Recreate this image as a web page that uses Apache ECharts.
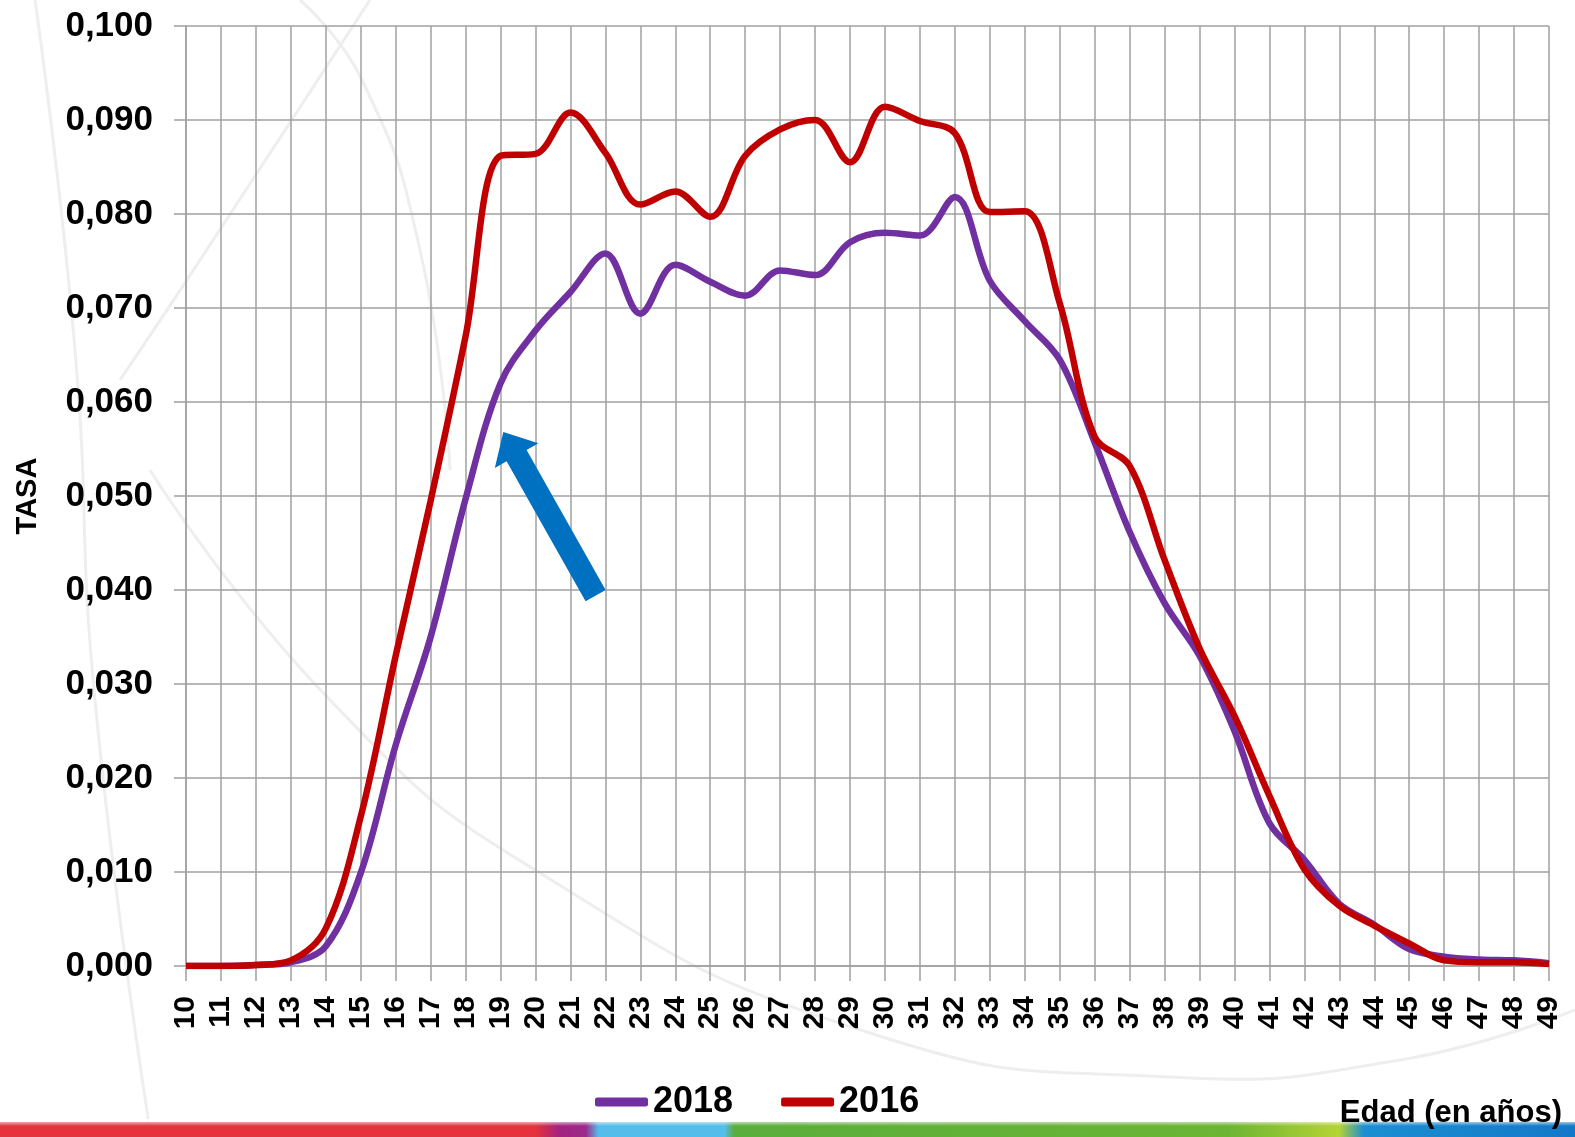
<!DOCTYPE html>
<html><head><meta charset="utf-8">
<script src="https://cdn.jsdelivr.net/npm/echarts@6/dist/echarts.min.js"></script>
<style>html,body{margin:0;padding:0;background:#fff}#c{width:1575px;height:1137px}</style>
</head><body><div id="c"></div>
<script>
// ---- data ----
const ages = ['10','11','12','13','14','15','16','17','18','19','20','21','22','23','24','25','26','27','28','29',
              '30','31','32','33','34','35','36','37','38','39','40','41','42','43','44','45','46','47','48','49'];
const tasa2018 = [0.0000,0.0000,0.0001,0.0004,0.0021,0.0099,0.0235,0.0350,0.0497,0.0620,
                  0.0676,0.0717,0.0758,0.0694,0.0746,0.0728,0.0713,0.0740,0.0735,0.0770,
                  0.0780,0.0777,0.0818,0.0729,0.0686,0.0645,0.0557,0.0462,0.0386,0.0330,
                  0.0250,0.0152,0.0113,0.0066,0.0044,0.0018,0.0010,0.0007,0.0006,0.0003];
const tasa2016 = [0.0000,0.0000,0.0001,0.0006,0.0040,0.0159,0.0330,0.0495,0.0670,0.0862,
                  0.0864,0.0908,0.0865,0.0810,0.0824,0.0797,0.0862,0.0890,0.0900,0.0855,
                  0.0914,0.0899,0.0886,0.0802,0.0803,0.0705,0.0563,0.0532,0.0432,0.0338,
                  0.0266,0.0181,0.0103,0.0064,0.0043,0.0024,0.0006,0.0004,0.0004,0.0002];
const seriesNames = ['2018','2016'];
// annotation arrow (category index, value)
const arrowTip = [9.08, 0.0568];
const arrowTail = [11.72, 0.0394];

// ---- chart ----
const FONT = "'Liberation Sans', Arial, sans-serif";
const GRID = '#a0a0a0';
const chart = echarts.init(document.getElementById('c'), null, {renderer:'canvas'});
const option = {
  backgroundColor: '#ffffff',
  animation: false,
  grid: {left: 186, right: 26, top: 26, bottom: 171, containLabel: false},
  legend: {
    data: seriesNames, left: 590, top: 1079, itemWidth: 53, itemHeight: 9, itemGap: 48,
    icon: 'roundRect',
    textStyle: {fontSize: 36, fontWeight: 'bold', color: '#000', fontFamily: FONT}
  },
  xAxis: {
    type: 'category', data: ages, boundaryGap: false,
    name: 'Edad (en años)', nameLocation: 'end', nameGap: 13,
    nameTextStyle: {align: 'right', verticalAlign: 'top', padding: [132,0,0,0],
                    fontSize: 31, fontWeight: 'bold', color: '#000', fontFamily: FONT},
    axisLine: {lineStyle: {color: GRID, width: 1.5}},
    axisTick: {show: true, interval: 0, length: 15, lineStyle: {color: GRID, width: 1.5}},
    axisLabel: {interval: 0, rotate: 90, margin: 30, fontSize: 30, fontWeight: 'bold',
                color: '#000', fontFamily: FONT},
    splitLine: {show: true, interval: 0, lineStyle: {color: GRID, width: 1.5}}
  },
  yAxis: {
    type: 'value', min: 0, max: 0.1, interval: 0.01,
    name: 'TASA', nameLocation: 'middle', nameGap: 144,
    nameTextStyle: {fontSize: 29, fontWeight: 'bold', color: '#000', fontFamily: FONT},
    axisLine: {show: true, lineStyle: {color: GRID, width: 1.5}},
    axisTick: {show: true, length: 12, lineStyle: {color: GRID, width: 1.5}},
    axisLabel: {margin: 33, fontSize: 35, fontWeight: 'bold', color: '#000', fontFamily: FONT,
                formatter: v => v.toFixed(3).replace('.', ',')},
    splitLine: {show: true, lineStyle: {color: GRID, width: 1.5}}
  },
  series: [
    {name: seriesNames[0], type: 'line', data: tasa2018, smooth: 0.35, symbol: 'none',
     itemStyle: {color: '#7030a0'}, lineStyle: {color: '#7030a0', width: 6.5}, z: 3},
    {name: seriesNames[1], type: 'line', data: tasa2016, smooth: 0.35, symbol: 'none',
     itemStyle: {color: '#c00000'}, lineStyle: {color: '#c00000', width: 6.5}, z: 4}
  ]
};
chart.setOption(option);

// pixel mapping through the chart's own axes
const pA = chart.convertToPixel({gridIndex: 0}, [0, 0]);
const pB = chart.convertToPixel({gridIndex: 0}, [ages.length - 1, 0.1]);
function toPx(idx, v) {
  return [pA[0] + (pB[0] - pA[0]) * idx / (ages.length - 1), pA[1] + (pB[1] - pA[1]) * v / 0.1];
}
const T = toPx(arrowTip[0], arrowTip[1]);
const B = toPx(arrowTail[0], arrowTail[1]);
const dx = T[0] - B[0], dy = T[1] - B[1], L = Math.hypot(dx, dy);
const ux = dx / L, uy = dy / L, nx = -uy, ny = ux;
const sw = 23 / 2, hw = 50 / 2, hl = 27;
const H = [T[0] - ux * hl, T[1] - uy * hl];
const arrowPts = [
  [B[0] + nx * sw, B[1] + ny * sw], [H[0] + nx * sw, H[1] + ny * sw], [H[0] + nx * hw, H[1] + ny * hw],
  T, [H[0] - nx * hw, H[1] - ny * hw], [H[0] - nx * sw, H[1] - ny * sw], [B[0] - nx * sw, B[1] - ny * sw]
];

const deco = {stroke: '#eeeeee', lineWidth: 3, fill: null};
chart.setOption({
  graphic: [
    {type: 'polyline', z: -10, silent: true, shape: {smooth: 0.5,
      points: [[150,470],[330,700],[540,873],[870,1033],[1170,1077],[1400,1060],[1575,1010]]}, style: deco},
    {type: 'polyline', z: -10, silent: true, shape: {smooth: 0.5,
      points: [[300,0],[362,80],[420,250],[450,470]]}, style: deco},
    {type: 'polyline', z: -10, silent: true, shape: {smooth: 0.5,
      points: [[35,0],[75,350],[95,700],[150,1130]]}, style: deco},
    {type: 'polyline', z: -10, silent: true, shape: {smooth: 0.3,
      points: [[120,380],[185,283],[370,0]]}, style: deco},
    {type: 'rect', z: -5, silent: true, shape: {x: 0, y: 1122, width: 1575, height: 15},
      style: {fill: new echarts.graphic.LinearGradient(0, 0, 1, 0, [
        {offset: 0, color: '#e5323c'}, {offset: 0.34, color: '#e5323c'},
        {offset: 0.355, color: '#a3237f'}, {offset: 0.372, color: '#9b2b8a'},
        {offset: 0.38, color: '#55bde9'}, {offset: 0.46, color: '#55bde9'},
        {offset: 0.466, color: '#5aae3c'}, {offset: 0.78, color: '#6cb534'},
        {offset: 0.85, color: '#b5d334'}, {offset: 0.866, color: '#1b8fd2'},
        {offset: 1, color: '#1478c8'}])}},
    {type: 'rect', z: -4, silent: true, shape: {x: 0, y: 1119, width: 1575, height: 7},
      style: {fill: new echarts.graphic.LinearGradient(0, 0, 0, 1, [
        {offset: 0, color: 'rgba(255,255,255,1)'}, {offset: 1, color: 'rgba(255,255,255,0)'}])}},
    {type: 'polygon', z: 100, silent: true, shape: {points: arrowPts}, style: {fill: '#0070c0'}}
  ]
});
</script></body></html>
